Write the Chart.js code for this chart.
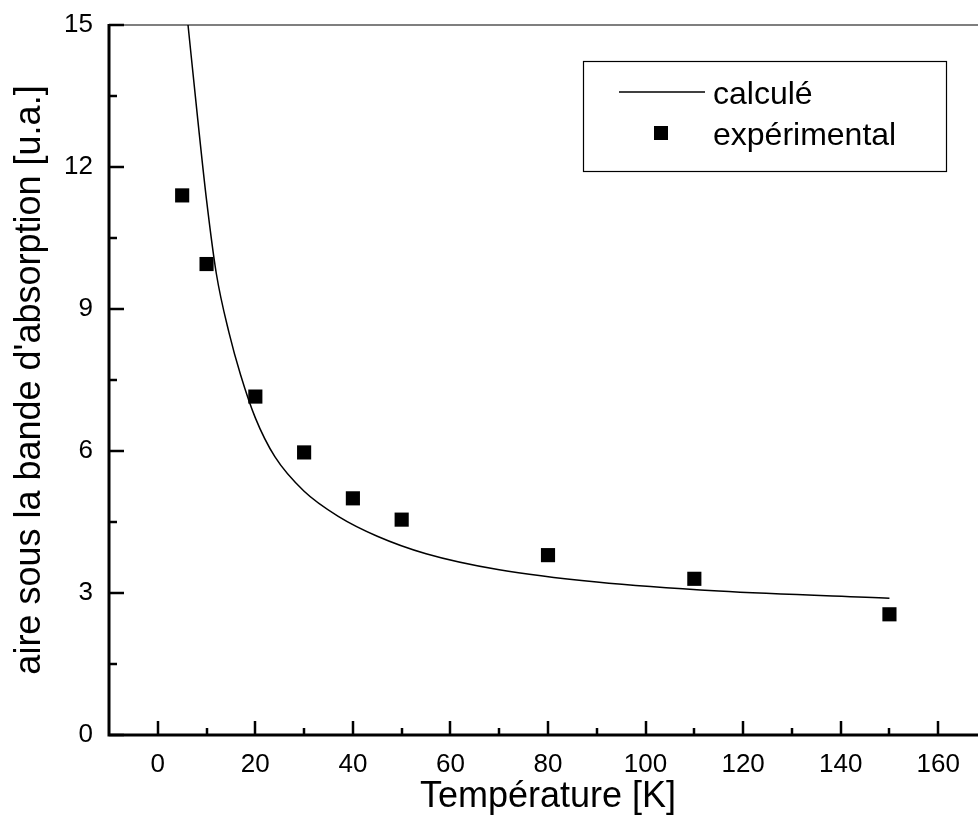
<!DOCTYPE html>
<html>
<head>
<meta charset="utf-8">
<script src="https://cdn.jsdelivr.net/npm/chart.js@4.4.0/dist/chart.umd.min.js"></script>
<style>
  html, body { margin: 0; padding: 0; background: #fff; overflow: hidden; }
  #wrap { width: 1004px; height: 832px; }
</style>
</head>
<body>
<div id="wrap"><canvas id="chart" width="1004" height="832"></canvas></div>
<script>
// ----- Data -----
const calcT = [6.2, 8.2, 10, 12, 14.6, 17, 20, 24, 30, 37, 45, 55, 70, 90, 115, 150];
const calcY = [15, 13.0, 11.3, 9.75, 8.5, 7.6, 6.7, 5.88, 5.15, 4.62, 4.2, 3.83, 3.49, 3.23, 3.04, 2.89];

const expT = [5, 10, 20, 30, 40, 50, 80, 110, 150];
const expY = [11.4, 9.95, 7.15, 5.97, 5.0, 4.55, 3.8, 3.3, 2.55];

const xTickLabels = [0, 20, 40, 60, 80, 100, 120, 140, 160];
const yTickLabels = [0, 3, 6, 9, 12, 15];

const LABEL_CALC = 'calculé';
const LABEL_EXP = 'expérimental';
const X_TITLE = 'Température [K]';
const Y_TITLE = "aire sous la bande d'absorption [u.a.]";

const FONT = "'Liberation Sans', Arial, sans-serif";

// ----- Plugins -----

// inward ticks, thick left/bottom axes, thin top border
const framePlugin = {
  id: 'frame',
  afterDatasetsDraw(chart) {
    const { ctx, chartArea: a, scales: { x, y } } = chart;
    ctx.save();
    ctx.strokeStyle = '#000';
    ctx.lineCap = 'butt';

    ctx.lineWidth = 2.5;
    x.ticks.forEach(t => {
      const v = t.value;
      if (v <= x.min || v >= x.max) return;
      const px = Math.round(x.getPixelForValue(v));
      const len = xTickLabels.includes(v) ? 14 : 7;
      ctx.beginPath();
      ctx.moveTo(px, a.bottom);
      ctx.lineTo(px, a.bottom - len);
      ctx.stroke();
    });
    y.ticks.forEach(t => {
      const v = t.value;
      const py = Math.round(y.getPixelForValue(v));
      const major = yTickLabels.some(l => Math.abs(l - v) < 1e-6);
      const len = major ? 15 : 8;
      ctx.beginPath();
      ctx.moveTo(a.left, py);
      ctx.lineTo(a.left + len, py);
      ctx.stroke();
    });

    ctx.lineWidth = 1.2;
    ctx.beginPath();
    ctx.moveTo(a.left, a.top);
    ctx.lineTo(a.right, a.top);
    ctx.stroke();

    ctx.lineWidth = 3;
    ctx.beginPath();
    ctx.moveTo(a.left, a.top - 1);
    ctx.lineTo(a.left, a.bottom);
    ctx.lineTo(a.right, a.bottom);
    ctx.stroke();
    ctx.restore();
  },
};

// boxed legend in the upper right
const legendBox = {
  id: 'legendBox',
  afterDraw(chart) {
    const { ctx } = chart;
    const calc = chart.data.datasets[0];
    const exp = chart.data.datasets[1];
    ctx.save();
    ctx.strokeStyle = '#000';
    ctx.lineWidth = 1.2;
    ctx.strokeRect(583.5, 61.5, 363, 110);

    ctx.strokeStyle = calc.borderColor;
    ctx.lineWidth = calc.borderWidth;
    ctx.beginPath();
    ctx.moveTo(619, 92);
    ctx.lineTo(705, 92);
    ctx.stroke();

    ctx.fillStyle = exp.backgroundColor;
    ctx.fillRect(654, 126, 14, 14);

    ctx.fillStyle = '#000';
    ctx.font = '32px ' + FONT;
    ctx.textAlign = 'left';
    ctx.textBaseline = 'middle';
    ctx.fillText(calc.label, 713, 95);
    ctx.fillText(exp.label, 713, 136);
    ctx.restore();
  },
};

// ----- Chart -----

new Chart(document.getElementById('chart'), {
  type: 'scatter',
  data: {
    datasets: [
      {
        type: 'line',
        label: LABEL_CALC,
        data: calcT.map((t, i) => ({ x: t, y: calcY[i] })),
        borderColor: '#000',
        borderWidth: 1.5,
        pointRadius: 0,
        fill: false,
        cubicInterpolationMode: 'monotone',
      },
      {
        label: LABEL_EXP,
        data: expT.map((t, i) => ({ x: t, y: expY[i] })),
        pointStyle: 'rect',
        pointRadius: 10,
        backgroundColor: '#000',
        borderColor: '#000',
        borderWidth: 0,
      },
    ],
  },
  options: {
    responsive: false,
    animation: false,
    layout: { padding: { top: 25, right: 17, left: 0, bottom: 0 } },
    plugins: {
      legend: { display: false },
      tooltip: { enabled: false },
    },
    scales: {
      x: {
        type: 'linear',
        min: -10,
        max: 170,
        afterFit(s) { s.height = 97; s.paddingLeft = 0; s.paddingRight = 0; },
        grid: { display: false, drawTicks: false },
        border: { display: false },
        ticks: {
          stepSize: 10,
          autoSkip: false,
          maxRotation: 0,
          padding: 14,
          color: '#000',
          font: { family: FONT, size: 26 },
          callback: v => (xTickLabels.includes(v) ? String(v) : ''),
        },
        title: {
          display: true,
          text: X_TITLE,
          color: '#000',
          font: { family: FONT, size: 36 },
          padding: { top: 0, bottom: 13 },
        },
      },
      y: {
        type: 'linear',
        min: 0,
        max: 15,
        afterFit(s) { s.width = 109; s.paddingTop = 0; s.paddingBottom = 0; },
        grid: { display: false, drawTicks: false },
        border: { display: false },
        ticks: {
          stepSize: 1.5,
          autoSkip: false,
          padding: 16,
          color: '#000',
          font: { family: FONT, size: 26 },
          callback: v => (yTickLabels.some(l => Math.abs(l - v) < 1e-6) ? String(Math.round(v)) : ''),
        },
        title: {
          display: true,
          text: Y_TITLE,
          color: '#000',
          font: { family: FONT, size: 36 },
          padding: { top: 8, bottom: 0 },
        },
      },
    },
  },
  plugins: [framePlugin, legendBox],
});
</script>
</body>
</html>
